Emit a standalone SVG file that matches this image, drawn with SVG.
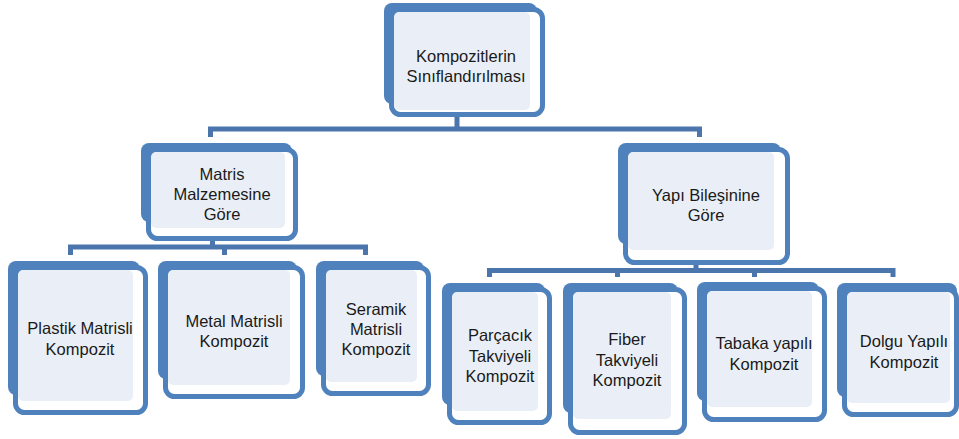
<svg xmlns="http://www.w3.org/2000/svg" width="959" height="439" viewBox="0 0 959 439">
<style>
.back{fill:#4f81bd}
.out{fill:#ffffff;stroke:#4f81bd;stroke-width:5}
.in{fill:#eaeff7}
.t{font-family:"Liberation Sans",Arial,sans-serif;font-size:16.5px;fill:#1a1a1a;text-anchor:middle}
.c{fill:none;stroke:#4a76ad;stroke-width:5}
</style>
<rect width="959" height="439" fill="#ffffff"/>
<g id="connectors">
<path class="c" d="M457 117 V129 M210.5 137 V129 H699.5 V137"/>
<path class="c" d="M212.5 241 V247 M70.5 255 V247 H365.5 V255 M224.5 247 V255"/>
<path class="c" d="M696 265 V270.5 M489.5 277 V270.5 H893 V277 M617.5 270.5 V277 M754.5 270.5 V277"/>
</g>
<g id="n-root">
<rect class="back" x="384" y="3" width="153" height="101" rx="8"/>
<rect class="out" x="391.5" y="9.5" width="151" height="105" rx="9"/>
<rect class="in" x="394" y="12" width="136" height="98" rx="5"/>
<text class="t" x="466" y="62">Kompozitlerin</text>
<text class="t" x="466" y="82">Sınıflandırılması</text>
</g>
<g id="n-matris">
<rect class="back" x="141" y="143" width="151" height="79" rx="8"/>
<rect class="out" x="148.5" y="149.5" width="147" height="89" rx="9"/>
<rect class="in" x="151" y="152" width="134" height="76" rx="5"/>
<text class="t" x="222" y="180">Matris</text>
<text class="t" x="222" y="200">Malzemesine</text>
<text class="t" x="222" y="220">Göre</text>
</g>
<g id="n-yapi">
<rect class="back" x="618" y="143" width="163" height="101" rx="8"/>
<rect class="out" x="625.5" y="149.5" width="162" height="113" rx="9"/>
<rect class="in" x="628" y="152" width="146" height="98" rx="5"/>
<text class="t" x="706" y="201">Yapı Bileşinine</text>
<text class="t" x="706" y="221">Göre</text>
</g>
<g id="n-plastik">
<rect class="back" x="8" y="261" width="132" height="134" rx="8"/>
<rect class="out" x="15.5" y="267.5" width="130" height="145" rx="9"/>
<rect class="in" x="18" y="270" width="115" height="131" rx="5"/>
<text class="t" x="80" y="334">Plastik Matrisli</text>
<text class="t" x="80" y="355">Kompozit</text>
</g>
<g id="n-metal">
<rect class="back" x="158" y="261" width="139" height="118" rx="8"/>
<rect class="out" x="165.5" y="267.5" width="137" height="129" rx="9"/>
<rect class="in" x="168" y="270" width="122" height="115" rx="5"/>
<text class="t" x="234" y="327">Metal Matrisli</text>
<text class="t" x="234" y="347">Kompozit</text>
</g>
<g id="n-seramik">
<rect class="back" x="316" y="261" width="108" height="115" rx="8"/>
<rect class="out" x="323.5" y="267.5" width="105" height="126" rx="9"/>
<rect class="in" x="326" y="270" width="91" height="112" rx="5"/>
<text class="t" x="376" y="315">Seramik</text>
<text class="t" x="376" y="335">Matrisli</text>
<text class="t" x="376" y="355">Kompozit</text>
</g>
<g id="n-parcacik">
<rect class="back" x="442" y="283" width="103" height="122" rx="8"/>
<rect class="out" x="449.5" y="289.5" width="100" height="133" rx="9"/>
<rect class="in" x="452" y="292" width="86" height="119" rx="5"/>
<text class="t" x="500" y="341">Parçacık</text>
<text class="t" x="500" y="362">Takviyeli</text>
<text class="t" x="500" y="382">Kompozit</text>
</g>
<g id="n-fiber">
<rect class="back" x="563" y="283" width="115" height="130" rx="8"/>
<rect class="out" x="570.5" y="289.5" width="114" height="143" rx="9"/>
<rect class="in" x="573" y="292" width="98" height="127" rx="5"/>
<text class="t" x="627" y="345">Fiber</text>
<text class="t" x="627" y="366">Takviyeli</text>
<text class="t" x="627" y="386">Kompozit</text>
</g>
<g id="n-tabaka">
<rect class="back" x="697" y="282" width="122" height="119" rx="8"/>
<rect class="out" x="704.5" y="288.5" width="120" height="131" rx="9"/>
<rect class="in" x="707" y="291" width="105" height="116" rx="5"/>
<text class="t" x="764" y="349">Tabaka yapılı</text>
<text class="t" x="764" y="370">Kompozit</text>
</g>
<g id="n-dolgu">
<rect class="back" x="837" y="283" width="120" height="114" rx="8"/>
<rect class="out" x="844.5" y="289.5" width="112" height="125" rx="9"/>
<rect class="in" x="847" y="292" width="103" height="111" rx="5"/>
<text class="t" x="904" y="347">Dolgu Yapılı</text>
<text class="t" x="904" y="368">Kompozit</text>
</g>
</svg>
